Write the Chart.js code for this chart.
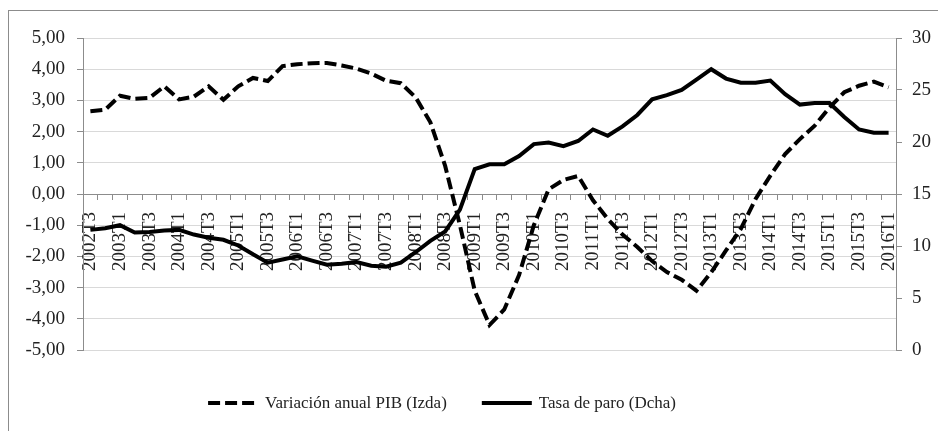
<!DOCTYPE html>
<html>
<head>
<meta charset="utf-8">
<script src="https://cdn.jsdelivr.net/npm/chart.js@4.4.0/dist/chart.umd.min.js"></script>
<style>
  html, body { margin: 0; padding: 0; background: #fff; }
  #wrap { position: relative; width: 938px; height: 431px; overflow: hidden; }
  #frame { position: absolute; left: 8px; top: 10px; width: 960px; height: 460px; border: 1px solid #8c8c8c; pointer-events: none; }
  canvas { position: absolute; left: 0; top: 0; }
</style>
</head>
<body>
<div id="wrap">
  <canvas id="chart" width="938" height="431"></canvas>
  <div id="frame"></div>
</div>
<script>
// ==============================
// DATOS
// ==============================
const trimestres = [
  '2002T3','2002T4',
  '2003T1','2003T2','2003T3','2003T4',
  '2004T1','2004T2','2004T3','2004T4',
  '2005T1','2005T2','2005T3','2005T4',
  '2006T1','2006T2','2006T3','2006T4',
  '2007T1','2007T2','2007T3','2007T4',
  '2008T1','2008T2','2008T3','2008T4',
  '2009T1','2009T2','2009T3','2009T4',
  '2010T1','2010T2','2010T3','2010T4',
  '2011T1','2011T2','2011T3','2011T4',
  '2012T1','2012T2','2012T3','2012T4',
  '2013T1','2013T2','2013T3','2013T4',
  '2014T1','2014T2','2014T3','2014T4',
  '2015T1','2015T2','2015T3','2015T4',
  '2016T1'
];

// Variación anual PIB (%), eje izquierdo
const pib = [
  2.65, 2.70, 3.15, 3.05, 3.08, 3.45, 3.03, 3.12, 3.45, 3.02,
  3.45, 3.72, 3.62, 4.10, 4.16, 4.19, 4.20, 4.12, 4.02, 3.86,
  3.63, 3.55, 3.10, 2.30, 0.90, -1.00, -3.10, -4.20, -3.70, -2.60,
  -1.00, 0.15, 0.45, 0.58, -0.20, -0.80, -1.30, -1.70, -2.15, -2.50,
  -2.75, -3.10, -2.51, -1.81, -1.12, -0.16, 0.59, 1.28, 1.76, 2.19,
  2.77, 3.26, 3.47, 3.60, 3.42
];

// Tasa de paro (%), eje derecho
const paro = [
  11.55, 11.7, 12.0, 11.3, 11.35, 11.5, 11.55, 11.1, 10.8, 10.6,
  10.05, 9.2, 8.4, 8.7, 9.0, 8.6, 8.2, 8.3, 8.45, 8.1,
  8.0, 8.4, 9.4, 10.5, 11.4, 13.5, 17.4, 17.85, 17.85, 18.65,
  19.8, 19.95, 19.6, 20.1, 21.2, 20.6, 21.5, 22.6, 24.1, 24.5,
  25.0, 26.0, 27.0, 26.1, 25.7, 25.7, 25.9, 24.6, 23.6, 23.75,
  23.75, 22.4, 21.2, 20.9, 20.9
];

const etiquetas = ['Variación anual PIB (Izda)', 'Tasa de paro (Dcha)'];

// ==============================
// LEYENDA ABAJO (dibujada a mano)
// ==============================
const leyenda = {
  id: 'leyenda',
  afterDraw(chart) {
    const ctx = chart.ctx;
    ctx.save();
    ctx.font = '17px "Liberation Serif"';
    const largo = 50, hueco = 7, separacion = 35, y = 403;
    const items = chart.data.datasets.map(ds => ({ ds, w: ctx.measureText(ds.label).width }));
    const total = items.reduce((s, it) => s + largo + hueco + it.w, 0) + separacion * (items.length - 1);
    let x = 442 - total / 2;
    items.forEach(({ ds, w }) => {
      ctx.beginPath();
      ctx.setLineDash(ds.borderDash || []);
      ctx.lineWidth = ds.borderWidth;
      ctx.strokeStyle = ds.borderColor;
      ctx.moveTo(x, y);
      ctx.lineTo(x + largo, y);
      ctx.stroke();
      ctx.setLineDash([]);
      ctx.fillStyle = '#222';
      ctx.textBaseline = 'middle';
      ctx.fillText(ds.label, x + largo + hueco, y + 1);
      x += largo + hueco + w + separacion;
    });
    ctx.restore();
  }
};

const fuente = { family: '"Liberation Serif", "Times New Roman", serif', size: 19 };

new Chart(document.getElementById('chart'), {
  type: 'line',
  data: {
    labels: trimestres,
    datasets: [
      {
        label: etiquetas[0],
        data: pib,
        yAxisID: 'y',
        borderColor: '#000',
        borderWidth: 4,
        borderDash: [12, 5],
        pointRadius: 0,
        tension: 0,
        fill: false
      },
      {
        label: etiquetas[1],
        data: paro,
        yAxisID: 'y2',
        borderColor: '#000',
        borderWidth: 4,
        pointRadius: 0,
        tension: 0,
        fill: false
      }
    ]
  },
  options: {
    responsive: false,
    animation: false,
    layout: { padding: { top: 38, bottom: 81, left: 0, right: 0 } },
    plugins: {
      legend: { display: false },
      tooltip: { enabled: false }
    },
    scales: {
      x: {
        position: { y: 0 },
        offset: true,
        grid: {
          display: true,
          drawOnChartArea: false,
          drawTicks: true,
          tickLength: 5,
          offset: true,
          tickColor: '#8c8c8c'
        },
        border: { color: '#8c8c8c', width: 1 },
        ticks: {
          autoSkip: false,
          maxRotation: 90,
          minRotation: 90,
          padding: 13,
          color: '#222',
          font: fuente,
          callback: (val, idx) => idx % 2 === 0 ? trimestres[idx] : ''
        }
      },
      y: {
        position: 'left',
        min: -5,
        max: 5,
        afterFit: s => { s.width = 83; },
        grid: { color: '#d9d9d9', tickColor: '#8c8c8c', tickLength: 6 },
        border: { color: '#8c8c8c' },
        ticks: {
          stepSize: 1,
          padding: 12,
          color: '#222',
          font: fuente,
          callback: v => v.toFixed(2).replace('.', ',')
        }
      },
      y2: {
        position: 'right',
        min: 0,
        max: 30,
        afterFit: s => { s.width = 42; },
        grid: { drawOnChartArea: false, tickColor: '#8c8c8c', tickLength: 6 },
        border: { color: '#8c8c8c' },
        ticks: {
          stepSize: 5,
          padding: 10,
          color: '#222',
          font: fuente
        }
      }
    }
  },
  plugins: [leyenda]
});
</script>
</body>
</html>
